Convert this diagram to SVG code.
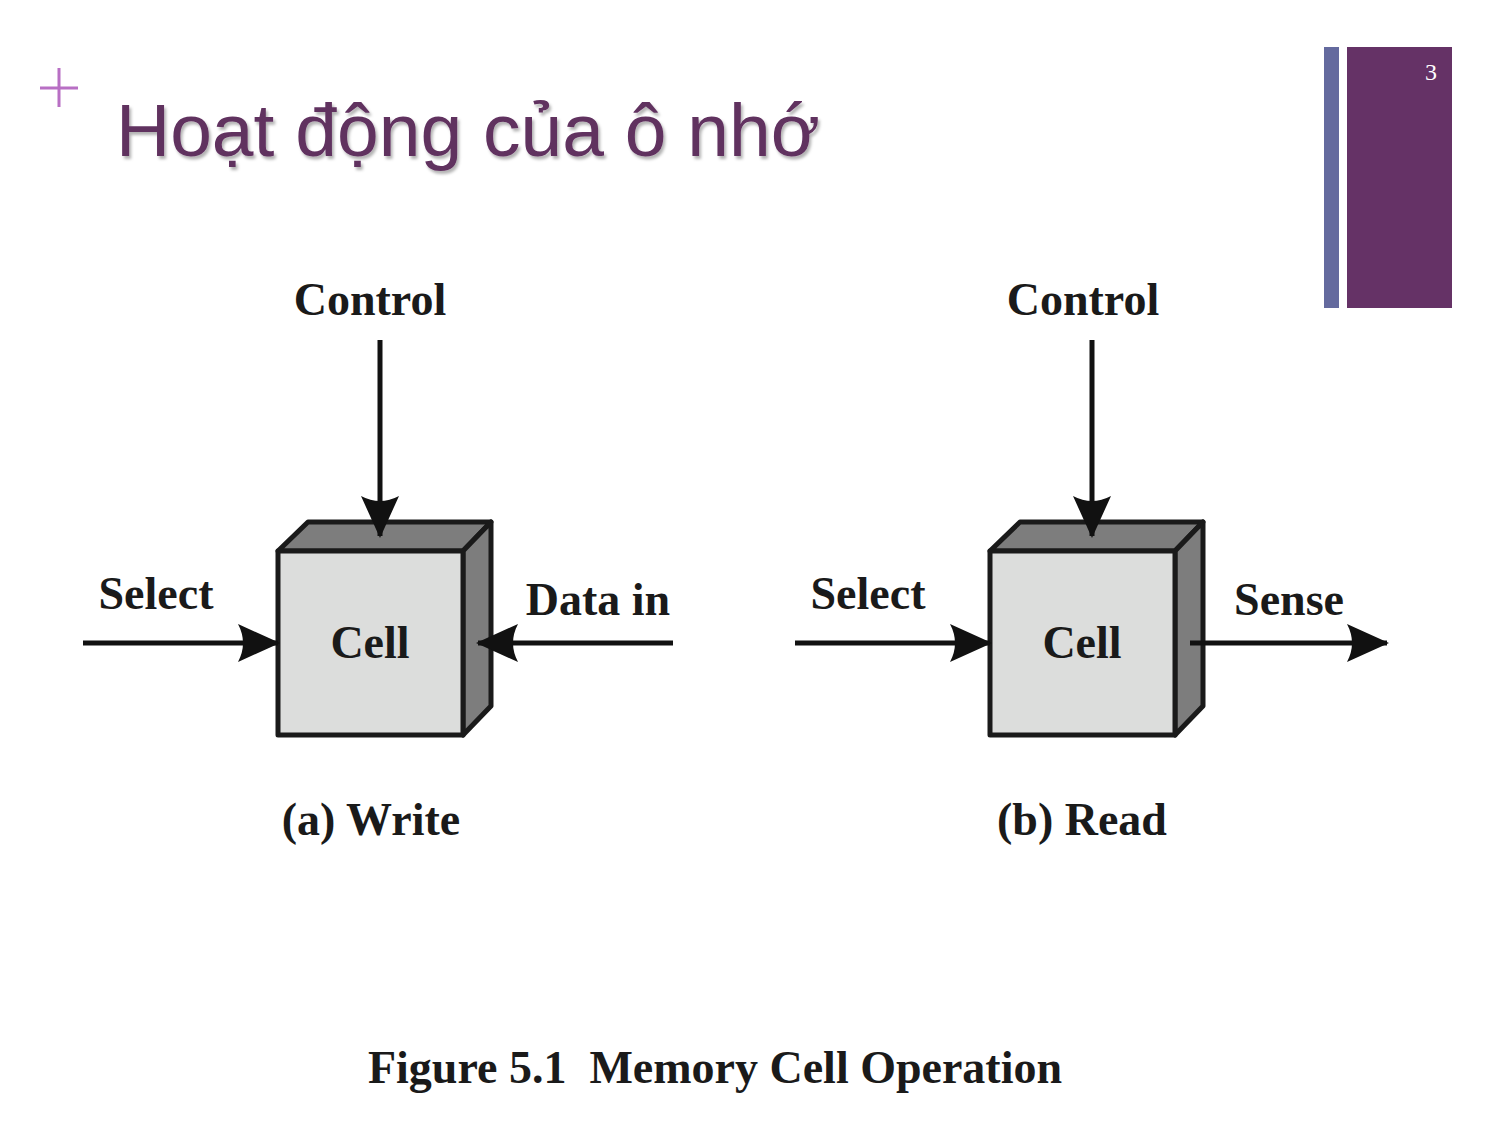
<svg xmlns="http://www.w3.org/2000/svg" width="1499" height="1124" viewBox="0 0 1499 1124">
<defs>
<style>
.lbl{font-family:"Liberation Serif","Times New Roman",serif;font-weight:bold;fill:#1a1a1a;font-size:46px}
.face{fill:#dcdddc;stroke:#1a1a1a;stroke-width:5;stroke-linejoin:round}
.dark{fill:#7d7d7d;stroke:#1a1a1a;stroke-width:5;stroke-linejoin:round}
.wire{stroke:#111;stroke-width:5;fill:none}
</style>
<marker id="ah" viewBox="0 0 42 38" refX="40" refY="19" markerWidth="42" markerHeight="38" markerUnits="userSpaceOnUse" orient="auto">
<path d="M0,0 L42,19 L0,38 Q10,19 0,0 Z" fill="#111"/>
</marker>
<filter id="sh" x="-5%" y="-20%" width="110%" height="140%">
<feDropShadow dx="2" dy="3" stdDeviation="1.5" flood-color="#000" flood-opacity="0.3"/>
</filter>
</defs>
<rect width="1499" height="1124" fill="#fff"/>
<g id="header">
<path d="M40,88 H78 M59,68 V107" stroke="#b86fc4" stroke-width="3" fill="none"/>
<text x="116" y="156" font-family="Liberation Sans,Arial,sans-serif" font-size="75" fill="#60305f" filter="url(#sh)">Hoạt động của ô nhớ</text>
<rect x="1324" y="47" width="15" height="261" fill="#646a9e"/>
<rect x="1347" y="47" width="105" height="261" fill="#653266"/>
<text x="1431" y="80" font-family="Liberation Serif,serif" font-size="24" fill="#fff" text-anchor="middle">3</text>
</g>
<g id="cell-write">
<path class="dark" d="M278,551 L308,522 L491,522 L463,551 Z"/>
<path class="dark" d="M463,551 L491,522 L491,706 L463,735 Z"/>
<rect class="face" x="278" y="551" width="185" height="184"/>
<text class="lbl" x="370" y="658" text-anchor="middle">Cell</text>
</g>
<g id="cell-read">
<path class="dark" d="M990,551 L1020,522 L1203,522 L1175,551 Z"/>
<path class="dark" d="M1175,551 L1203,522 L1203,706 L1175,735 Z"/>
<rect class="face" x="990" y="551" width="185" height="184"/>
<text class="lbl" x="1082" y="658" text-anchor="middle">Cell</text>
</g>
<g id="connectors">
<line class="wire" x1="380" y1="340" x2="380" y2="536" marker-end="url(#ah)"/>
<line class="wire" x1="83" y1="643" x2="278" y2="643" marker-end="url(#ah)"/>
<line class="wire" x1="673" y1="643" x2="478" y2="643" marker-end="url(#ah)"/>
<line class="wire" x1="1092" y1="340" x2="1092" y2="536" marker-end="url(#ah)"/>
<line class="wire" x1="795" y1="643" x2="990" y2="643" marker-end="url(#ah)"/>
<line class="wire" x1="1190" y1="643" x2="1387" y2="643" marker-end="url(#ah)"/>
</g>
<g id="labels">
<text class="lbl" x="370" y="315" text-anchor="middle">Control</text>
<text class="lbl" x="1083" y="315" text-anchor="middle">Control</text>
<text class="lbl" x="156" y="609" text-anchor="middle">Select</text>
<text class="lbl" x="868" y="609" text-anchor="middle">Select</text>
<text class="lbl" x="598" y="615" text-anchor="middle">Data in</text>
<text class="lbl" x="1289" y="615" text-anchor="middle">Sense</text>
<text class="lbl" x="371" y="835" text-anchor="middle">(a) Write</text>
<text class="lbl" x="1082" y="835" text-anchor="middle">(b) Read</text>
<text class="lbl" x="715" y="1083" text-anchor="middle" style="white-space:pre">Figure 5.1  Memory Cell Operation</text>
</g>
</svg>
